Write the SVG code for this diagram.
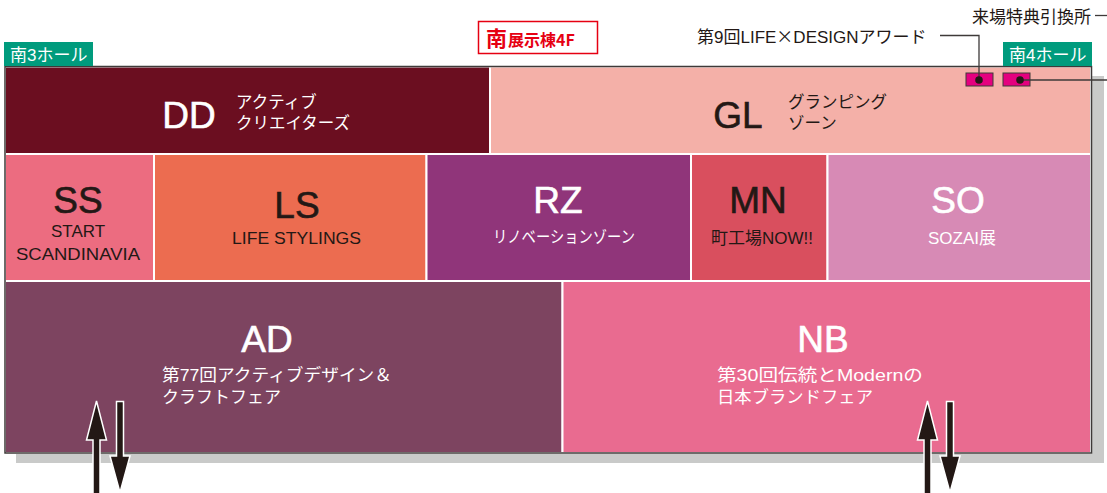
<svg xmlns="http://www.w3.org/2000/svg" width="1107" height="493" viewBox="0 0 1107 493">
<style>
.cell{stroke:#fff;stroke-width:2}
.big{font-family:"Liberation Sans",Arial,sans-serif;font-size:37px;text-anchor:middle;stroke-width:0.6}
.big.w{stroke:#fff}
.big.k{stroke:#231815}
.sub{font-family:"Liberation Sans","Noto Sans CJK JP",sans-serif;font-size:17px}
.jp{font-family:"Liberation Sans","Noto Sans CJK JP",sans-serif;font-size:16.5px}
.w{fill:#fff}
.k{fill:#231815}
.mid{text-anchor:middle}
.hall{fill:#009b7d}
.ln{stroke:#3e3a39;stroke-width:1.3;fill:none}
.mk{fill:#e4007f;stroke:#3e3a39;stroke-width:1}
.arr{fill:#231815;stroke:#fff;stroke-width:1.5;stroke-linejoin:miter}
</style>
<rect width="1107" height="493" fill="#fff"/>
<rect x="16" y="76" width="1088" height="387" fill="#c9cac9"/>
<g id="DD">
<rect class="cell" x="5" y="66.5" width="485" height="87.5" fill="#6b0e20"/>
<text class="big w" x="189" y="128">DD</text>
<text class="jp w" x="236" y="108">アクティブ</text>
<text class="jp w" x="236" y="129">クリエイターズ</text>
</g>
<g id="GL">
<rect class="cell" x="490" y="66.5" width="601" height="87.5" fill="#f4b0a8"/>
<text class="big k" x="738" y="128">GL</text>
<text class="jp k" x="788" y="108">グランピング</text>
<text class="jp k" x="788" y="129">ゾーン</text>
</g>
<g id="SS">
<rect class="cell" x="5" y="154" width="149" height="127" fill="#ec6c80"/>
<text class="big k" x="78" y="213">SS</text>
<text class="sub k mid" x="78" y="237">START</text>
<text class="sub k" x="16" y="260" font-size="17.5" textLength="124" lengthAdjust="spacingAndGlyphs">SCANDINAVIA</text>
</g>
<g id="LS">
<rect class="cell" x="154" y="154" width="272.5" height="127" fill="#ec6c50"/>
<text class="big k" x="297" y="218">LS</text>
<text class="sub k" x="232" y="244" font-size="17.5" textLength="129" lengthAdjust="spacingAndGlyphs">LIFE STYLINGS</text>
</g>
<g id="RZ">
<rect class="cell" x="426.5" y="154" width="264.5" height="127" fill="#90357a"/>
<text class="big w" x="558" y="213">RZ</text>
<text class="jp w" x="493" y="243" font-size="15.5" textLength="142" lengthAdjust="spacingAndGlyphs">リノベーションゾーン</text>
</g>
<g id="MN">
<rect class="cell" x="691" y="154" width="136.5" height="127" fill="#d94f5e"/>
<text class="big k" x="758" y="213">MN</text>
<text class="sub k mid" x="762" y="244" font-size="16">町工場NOW!!</text>
</g>
<g id="SO">
<rect class="cell" x="827.5" y="154" width="263.5" height="127" fill="#d78ab5"/>
<text class="big w" x="958" y="213">SO</text>
<text class="sub w mid" x="962" y="244" font-size="16">SOZAI展</text>
</g>
<g id="AD">
<rect class="cell" x="5" y="281" width="557.5" height="172" fill="#7d4460"/>
<text class="big w" x="267" y="352">AD</text>
<text class="sub w" x="162" y="381" textLength="230" lengthAdjust="spacingAndGlyphs">第77回アクティブデザイン＆</text>
<text class="sub w" x="162" y="403">クラフトフェア</text>
</g>
<g id="NB">
<rect class="cell" x="562.5" y="281" width="528.5" height="172" fill="#e96b90"/>
<text class="big w" x="823" y="352">NB</text>
<text class="sub w" x="717" y="381" textLength="206" lengthAdjust="spacingAndGlyphs">第30回伝統とModernの</text>
<text class="sub w" x="717" y="403" textLength="156" lengthAdjust="spacingAndGlyphs">日本ブランドフェア</text>
</g>
<rect x="5" y="66.5" width="1086.5" height="386.5" fill="none" stroke="#3e3a39" stroke-width="1.5"/>
<g id="hall3">
<rect class="hall" x="4" y="42" width="89" height="24"/>
<text class="sub w" x="10" y="61" font-size="17">南3ホール</text>
</g>
<g id="hall4">
<rect class="hall" x="1003" y="42" width="89" height="24"/>
<text class="sub w" x="1009" y="61" font-size="17">南4ホール</text>
</g>
<g id="title">
<rect x="478.5" y="21.5" width="119" height="32" fill="#fff" stroke="#e60012" stroke-width="1.5"/>
<text x="486" y="46" font-family="'Noto Sans CJK JP',sans-serif" font-weight="bold" font-size="21" fill="#e60012">南<tspan font-size="16" dx="1">展示棟4F</tspan></text>
</g>
<g id="award">
<text class="sub k" x="697" y="43" font-size="17">第9回LIFE<tspan font-family="'Noto Sans CJK JP',sans-serif">×</tspan>DESIGNアワード</text>
<rect class="mk" x="966" y="73" width="27" height="13"/>
</g>
<g id="exchange">
<text class="sub k" x="972" y="23" font-size="17">来場特典引換所</text>
<rect class="mk" x="1003" y="73" width="27" height="13"/>
</g>
<g id="connectors">
<polyline class="ln" points="940,35.5 979,35.5 979,80"/>
<circle cx="979" cy="80" r="3.8" fill="#231815"/>
<line class="ln" x1="1020" y1="80" x2="1107" y2="80"/>
<circle cx="1020" cy="80" r="3.8" fill="#231815"/>
<line class="ln" x1="1095" y1="15.5" x2="1107" y2="15.5"/>
<path class="arr" d="M96.5,401 L106.5,440 L100,440 L100,495 L93,495 L93,440 L86.5,440 Z"/>
<path class="arr" d="M116.5,401.5 L123.5,401.5 L123.5,456 L130,456 L120,492.5 L110,456 L116.5,456 Z"/>
<path class="arr" d="M927.5,401 L937.5,440 L931,440 L931,495 L924,495 L924,440 L917.5,440 Z"/>
<path class="arr" d="M946.5,401.5 L953.5,401.5 L953.5,456 L960,456 L950,492.5 L940,456 L946.5,456 Z"/>
</g>
</svg>
